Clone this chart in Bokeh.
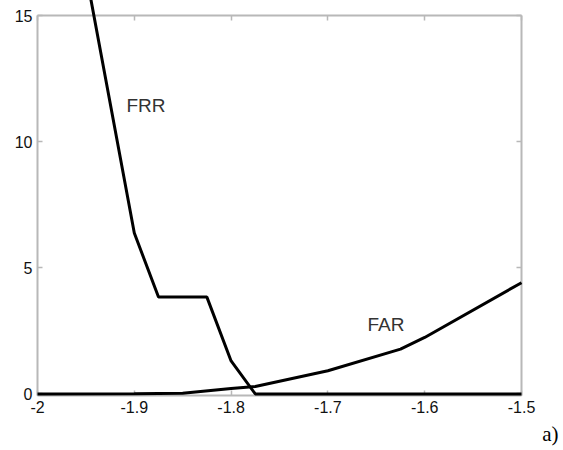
from bokeh.plotting import figure
from bokeh.models import LinearAxis, FixedTicker, CustomJSTickFormatter, Range1d, Label, Title
from bokeh.embed import file_html
from bokeh.resources import INLINE

# data
frr_x = [-1.95, -1.9, -1.875, -1.825, -1.8, -1.775, -1.5]
frr_y = [16.7, 6.38, 3.84, 3.84, 1.31, 0.0, 0.0]
far_x = [-2.0, -1.9, -1.85, -1.8, -1.775, -1.7, -1.625, -1.6, -1.5]
far_y = [0.0, 0.01, 0.03, 0.22, 0.30, 0.92, 1.78, 2.24, 4.41]
x_ticks = [-2.0, -1.9, -1.8, -1.7, -1.6, -1.5]
y_ticks = [0, 5, 10, 15]

p = figure(width=563, height=450, output_backend="svg", toolbar_location=None,
           x_range=Range1d(-2.0, -1.5), y_range=Range1d(-0.06, 15),
           x_axis_location=None, y_axis_location=None)
p.min_border_left = 37
p.min_border_right = 42
p.min_border_top = 15
p.min_border_bottom = 55
p.outline_line_color = None
p.xgrid.visible = False
p.ygrid.visible = False
p.background_fill_color = "white"
p.border_fill_color = "white"

fmt = CustomJSTickFormatter(code="return (Math.round(tick*10)/10).toString();")

AX_COLOR = "#b8b8b8"

def style(ax, show_labels):
    ax.axis_line_color = AX_COLOR
    ax.axis_line_width = 2
    ax.major_tick_line_color = AX_COLOR
    ax.major_tick_line_width = 1.5
    ax.major_tick_in = 5
    ax.major_tick_out = 0
    ax.minor_tick_line_color = None
    ax.major_label_text_font = "Liberation Sans"
    ax.major_label_text_font_size = "16px"
    ax.major_label_text_color = "#111111"
    if not show_labels:
        ax.major_label_text_alpha = 0
        ax.major_label_text_font_size = "1px"
        ax.major_label_standoff = 0

xb = LinearAxis(ticker=FixedTicker(ticks=x_ticks), formatter=fmt)
style(xb, True)
xb.major_label_standoff = 5
xt = LinearAxis(ticker=FixedTicker(ticks=x_ticks))
style(xt, False)
yl = LinearAxis(ticker=FixedTicker(ticks=y_ticks))
style(yl, True)
yl.major_label_standoff = 5
yr = LinearAxis(ticker=FixedTicker(ticks=y_ticks))
style(yr, False)
p.add_layout(xb, "below")
p.add_layout(xt, "above")
p.add_layout(yl, "left")
p.add_layout(yr, "right")

p.line(far_x, far_y, line_color="black", line_width=3, level="overlay")
p.line(frr_x, frr_y, line_color="black", line_width=3, level="overlay")

p.add_layout(Label(x=-1.888, y=11.45, text="FRR", text_font="Liberation Sans",
                   text_font_size="19px", text_color="#333333",
                   text_align="center", text_baseline="middle"))
p.add_layout(Label(x=-1.640, y=2.76, text="FAR", text_font="Liberation Sans",
                   text_font_size="19px", text_color="#333333",
                   text_align="center", text_baseline="middle"))

t = Title(text="a)", align="right", offset=-37, text_font="Liberation Serif",
          text_font_size="21px", text_font_style="normal", text_color="black",
          standoff=8)
p.add_layout(t, "below")

open("out.html", "w").write(file_html(p, INLINE))
